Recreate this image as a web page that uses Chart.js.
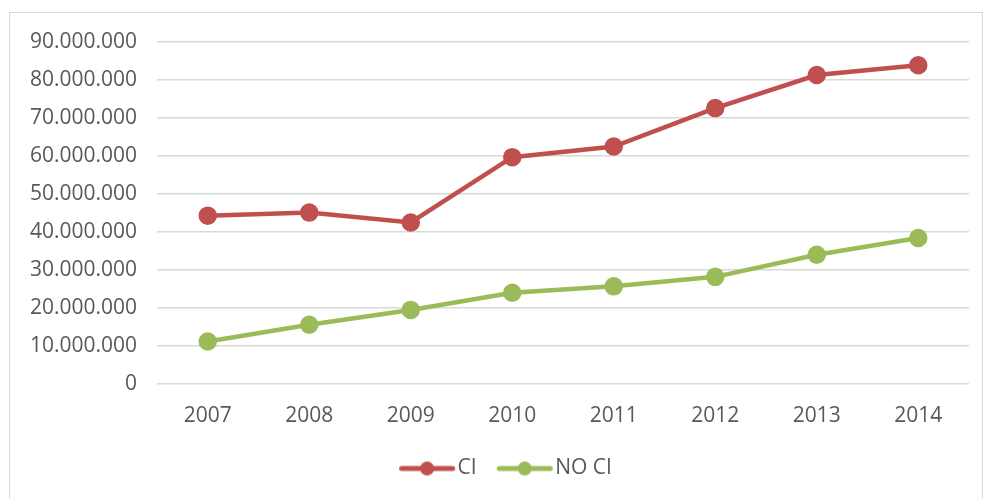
<!DOCTYPE html>
<html>
<head>
<meta charset="utf-8">
<script src="https://cdn.jsdelivr.net/npm/chart.js@4.4.1/dist/chart.umd.min.js"></script>
<style>
  html, body { margin: 0; padding: 0; background: #fff; overflow: hidden; }
  #box {
    position: absolute; left: 9px; top: 12px;
    width: 972px; height: 495px;
    border: 1px solid #d9d9d9;
  }
  #wrap { position: absolute; left: 0; top: 0; width: 972px; height: 486px; }
</style>
</head>
<body>
<div id="box"><div id="wrap"><canvas id="lineChart"></canvas></div></div>
<script>
const years = ['2007', '2008', '2009', '2010', '2011', '2012', '2013', '2014'];
const ciValues = [44300000, 45100000, 42500000, 59700000, 62500000, 72600000, 81300000, 83900000];
const noCiValues = [11200000, 15600000, 19500000, 24000000, 25700000, 28200000, 34000000, 38400000];

const red = '#C0504D';
const green = '#9BBB59';
const textColor = '#595959';
const fontFamily = '"Open Sans", "Liberation Sans", sans-serif';

function fmtDots(v) {
    return String(Math.round(v)).replace(/\B(?=(\d{3})+(?!\d))/g, '.');
}

// legend marker: line with a dot in the middle, like Excel
// (image is wider than the legend box and the line sits right of centre,
// so the text comes close to it and the items get more room between them)
function legendMarker(color) {
    const c = document.createElement('canvas');
    c.width = 80;
    c.height = 16;
    const g = c.getContext('2d');
    g.strokeStyle = color;
    g.lineWidth = 5;
    g.lineCap = 'round';
    g.beginPath();
    g.moveTo(23.5, 8);
    g.lineTo(74.5, 8);
    g.stroke();
    g.fillStyle = color;
    g.beginPath();
    g.arc(49, 8, 7, 0, Math.PI * 2);
    g.fill();
    return c;
}

// Excel puts the legend a little right of the centre of the box
const legendNudge = {
    id: 'legendNudge',
    afterLayout(chart) {
        chart.legend.left += 11;
        chart.legend.right += 11;
    }
};

const ctx = document.getElementById('lineChart').getContext('2d');

new Chart(ctx, {
    type: 'line',
    data: {
        labels: years,
        datasets: [{
            label: 'CI',
            data: ciValues,
            borderColor: red,
            backgroundColor: red,
            borderWidth: 4.5,
            pointRadius: 7,
            pointHoverRadius: 7,
            pointStyle: 'circle',
            tension: 0
        }, {
            label: 'NO CI',
            data: noCiValues,
            borderColor: green,
            backgroundColor: green,
            borderWidth: 4.5,
            pointRadius: 7,
            pointHoverRadius: 7,
            pointStyle: 'circle',
            tension: 0
        }]
    },
    options: {
        responsive: true,
        maintainAspectRatio: false,
        animation: false,
        layout: {
            padding: { left: 0, right: 13, top: 29, bottom: 10 }
        },
        scales: {
            x: {
                offset: true,
                grid: { display: false },
                border: { display: false },
                ticks: {
                    color: textColor,
                    font: { family: fontFamily, size: 21 },
                    padding: 11,
                    maxRotation: 0
                },
                afterFit: (scale) => { scale.height = 64; }
            },
            y: {
                min: 0,
                max: 90000000,
                grid: { color: '#d9d9d9', lineWidth: 1.5, drawTicks: false },
                border: { display: false },
                ticks: {
                    stepSize: 10000000,
                    color: textColor,
                    font: { family: fontFamily, size: 21 },
                    padding: 20,
                    callback: (v) => fmtDots(v)
                },
                afterFit: (scale) => {
                    scale.width = 147;
                    scale.paddingTop = 14;
                }
            }
        },
        plugins: {
            legend: {
                position: 'bottom',
                labels: {
                    color: textColor,
                    font: { family: fontFamily, size: 21 },
                    usePointStyle: true,
                    pointStyleWidth: 58,
                    boxHeight: 16,
                    padding: 10,
                    generateLabels: (chart) => chart.data.datasets.map((ds, i) => ({
                        text: ds.label,
                        fontColor: textColor,
                        pointStyle: legendMarker(ds.borderColor),
                        datasetIndex: i,
                        hidden: false,
                        lineWidth: 0,
                        strokeStyle: 'transparent',
                        fillStyle: ds.borderColor
                    }))
                }
            },
            tooltip: { enabled: false }
        }
    },
    plugins: [legendNudge]
});
</script>
</body>
</html>
